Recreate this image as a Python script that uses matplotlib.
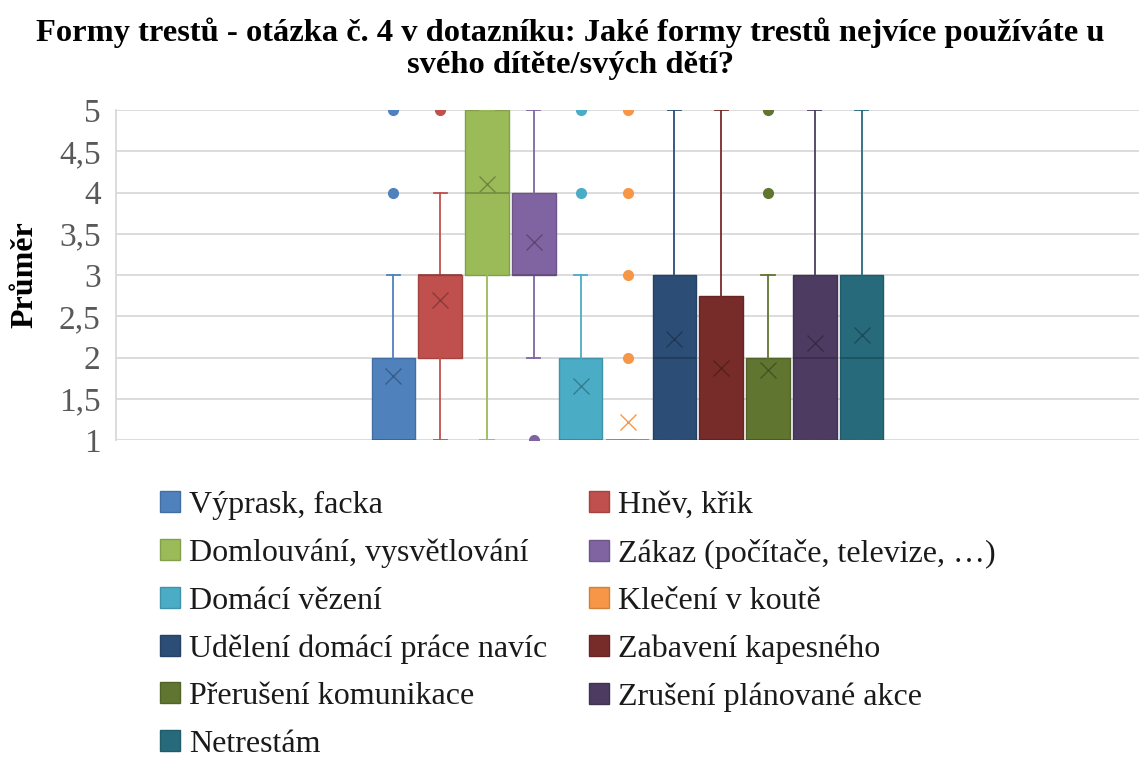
import matplotlib
matplotlib.use("Agg")
import matplotlib.pyplot as plt
from matplotlib.patches import Patch
from matplotlib.colors import to_rgb

# ---- data ----
categories = ["Výprask, facka", "Hněv, křik", "Domlouvání, vysvětlování",
              "Zákaz (počítače, televize, …)", "Domácí vězení", "Klečení v koutě",
              "Udělení domácí práce navíc", "Zabavení kapesného", "Přerušení komunikace",
              "Zrušení plánované akce", "Netrestám"]
q1 = [1, 2, 3, 3, 1, 1, 1, 1, 1, 1, 1]
median = [1, 3, 4, 3, 1, 1, 2, 1, 1, 2, 2]
q3 = [2, 3, 5, 4, 2, 1, 3, 2.75, 2, 3, 3]
whisker_low = [1, 1, 1, 2, 1, 1, 1, 1, 1, 1, 1]
whisker_high = [3, 4, 5, 5, 3, 1, 5, 5, 3, 5, 5]
means = [1.78, 2.70, 4.10, 3.40, 1.65, 1.22, 2.22, 1.87, 1.85, 2.17, 2.27]
outliers = [[4, 5], [5], [], [1], [4, 5], [2, 3, 4, 5], [], [], [4, 5], [], []]
colors = ["#4F81BD", "#C0504D", "#9BBB59", "#8064A2", "#4BACC6", "#F79646",
          "#2C4D75", "#772C2A", "#5F7530", "#4D3B62", "#276A7C"]
yticks = [1, 1.5, 2, 2.5, 3, 3.5, 4, 4.5, 5]
ytick_labels = ["1", "1,5", "2", "2,5", "3", "3,5", "4", "4,5", "5"]

title = "Formy trestů - otázka č. 4 v dotazníku: Jaké formy trestů nejvíce používáte u\nsvého dítěte/svých dětí?"

def shade(c, f):
    r, g, b = to_rgb(c)
    return (r * f, g * f, b * f)

plt.rcParams['font.family'] = ['Liberation Serif', 'DejaVu Serif']

fig = plt.figure(figsize=(11.41, 7.58), dpi=100)
ax = fig.add_axes([116 / 1141, 1 - 440 / 758, 1023 / 1141, 330 / 758])

stats = []
for i in range(len(categories)):
    stats.append(dict(med=median[i], q1=q1[i], q3=q3[i], whislo=whisker_low[i],
                      whishi=whisker_high[i], mean=means[i], fliers=outliers[i],
                      label=categories[i]))

positions = list(range(len(categories)))
art = ax.bxp(stats, positions=positions, widths=0.93, capwidths=0.28,
             patch_artist=True, showmeans=True, showfliers=True, zorder=3)

for i, c in enumerate(colors):
    box = art['boxes'][i]
    box.set_facecolor(c)
    box.set_edgecolor(shade(c, 0.85))
    box.set_linewidth(1.0)
    art['medians'][i].set_color(shade(c, 0.75))
    art['medians'][i].set_linewidth(1.2)
    for w in art['whiskers'][2 * i:2 * i + 2]:
        w.set_color(c)
        w.set_linewidth(1.3)
    for cp in art['caps'][2 * i:2 * i + 2]:
        cp.set_color(c)
        cp.set_linewidth(1.3)
    fl = art['fliers'][i]
    fl.set_marker('o')
    fl.set_markerfacecolor(c)
    fl.set_markeredgecolor(c)
    fl.set_markersize(7)
    mn = art['means'][i]
    mn.set_marker('x')
    mn.set_markersize(12)
    mn.set_markeredgewidth(1.0)
    mn.set_markeredgecolor(c if q1[i] == q3[i] else shade(c, 0.72))
    mn.set_zorder(5)

ax.set_xlim(-5.92, 15.92)
ax.set_ylim(1, 5)
ax.set_xticks([])
ax.set_yticks(yticks)
ax.set_yticklabels(ytick_labels, fontsize=24, color="#595959")
ax.tick_params(axis='y', length=0, pad=11)
ax.yaxis.grid(True, color="#D9D9D9", linewidth=1.3, zorder=0)
ax.set_axisbelow(True)
for s in ["top", "right", "bottom"]:
    ax.spines[s].set_visible(False)
ax.spines["left"].set_color("#D9D9D9")
ax.spines["left"].set_linewidth(1.3)

fig.text(0.5, 1 - 17 / 758, title, ha='center', va='top', fontsize=23.4,
         fontweight='bold', color='black', linespacing=1.15)
fig.text(25 / 1141, 1 - 275 / 758, "Průměr", rotation=90, ha='center', va='center',
         fontsize=23, fontweight='bold', color='black')

handles = [Patch(facecolor=c, edgecolor=shade(c, 0.85), label=l) for c, l in zip(colors, categories)]
order = [0, 2, 4, 6, 8, 10, 1, 3, 5, 7, 9]
fig.legend([handles[k] for k in order], [categories[k] for k in order],
           loc='upper left', bbox_to_anchor=(160 / 1141, 1 - 491 / 758), ncol=2,
           frameon=False, fontsize=23, handlelength=0.63, handleheight=0.63,
           handletextpad=0.28, labelspacing=0.58, columnspacing=1.3,
           borderpad=0, borderaxespad=0, labelcolor="#1a1a1a")

fig.savefig("out.png", dpi=100)
